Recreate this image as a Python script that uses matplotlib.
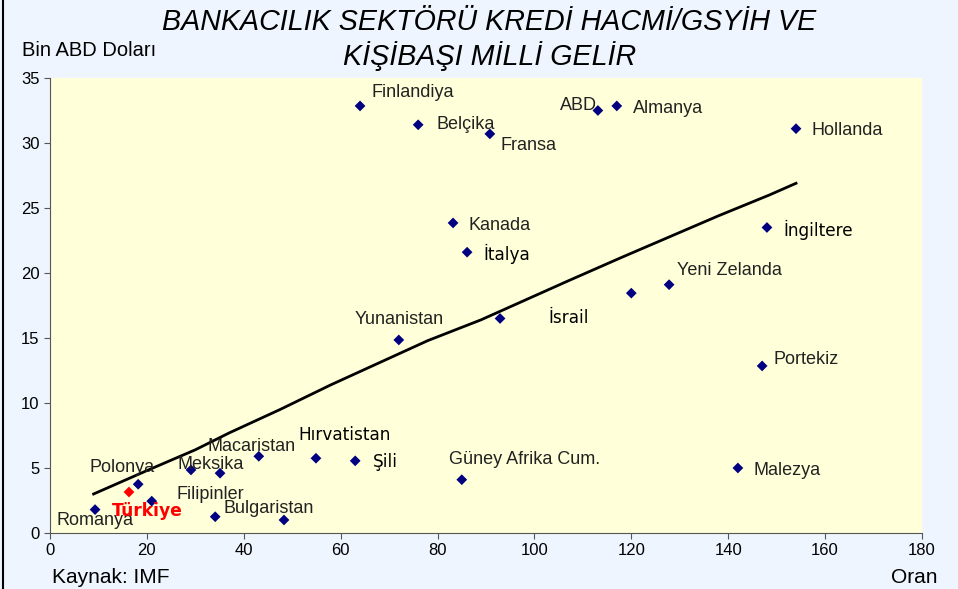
import matplotlib
matplotlib.use('Agg')
import matplotlib.pyplot as plt

# scatter data: ratio (x) vs per-capita income, thousand USD (y)
countries = ['Romanya', 'Türkiye', 'Polonya', 'Filipinler', 'Meksika', '', 'Macaristan',
             'Bulgaristan', '', 'Hırvatistan', 'Şili', 'Yunanistan', 'Güney Afrika Cum.',
             'Finlandiya', 'Belçika', 'Fransa', 'ABD', 'Almanya', 'Hollanda', 'Kanada',
             'İtalya', 'İsrail', '', 'Yeni Zelanda', 'İngiltere', 'Portekiz', 'Malezya']
ratio = [9.3, 16.3, 18.2, 21.0, 29.1, 35.1, 43.1,
         34.1, 48.3, 54.9, 63.0, 72.0, 85.0,
         64.0, 76.0, 90.8, 113.1, 117.0, 154.0, 83.2,
         86.1, 92.9, 120.0, 127.8, 148.0, 147.0, 142.0]
income = [1.8, 3.15, 3.75, 2.45, 4.85, 4.6, 5.9,
          1.25, 1.0, 5.75, 5.55, 14.85, 4.1,
          32.85, 31.4, 30.7, 32.5, 32.85, 31.1, 23.85,
          21.6, 16.5, 18.45, 19.1, 23.5, 12.85, 5.0]

# trend line
trend_x = [9, 20, 30, 37, 47.5, 58, 68, 78, 89, 98, 107, 118, 128, 138, 148.5, 154]
trend_y = [3.0, 4.8, 6.4, 7.7, 9.5, 11.4, 13.1, 14.8, 16.4, 17.9, 19.4, 21.2, 22.8, 24.4, 26.0, 26.9]

x_ticks = [0, 20, 40, 60, 80, 100, 120, 140, 160, 180]
y_ticks = [0, 5, 10, 15, 20, 25, 30, 35]

# label placement (offset points) and font per label
offsets = {
    'Romanya': (-28, -8), 'Türkiye': (-12, -14), 'Polonya': (-35, 12),
    'Filipinler': (18, 5), 'Meksika': (-10, 4), 'Macaristan': (-37, 7),
    'Bulgaristan': (6, 6), 'Hırvatistan': (-13, 16.5), 'Şili': (13, -1),
    'Yunanistan': (-32, 15), 'Güney Afrika Cum.': (-9, 14.5), 'Finlandiya': (8.5, 9.5),
    'Belçika': (13.5, 0.5), 'Fransa': (8, -8.5), 'ABD': (-27, 3.5), 'Almanya': (11.5, -1.5),
    'Hollanda': (11.5, -1.5), 'Kanada': (11, -2), 'İtalya': (11.5, -1),
    'İsrail': (34.5, 0), 'Yeni Zelanda': (6, 10), 'İngiltere': (11.5, -1.5),
    'Portekiz': (8, 4.5), 'Malezya': (11, -1.5),
}
verdana_like = {'Hırvatistan', 'Şili', 'İtalya', 'İsrail', 'İngiltere'}

fig = plt.figure(figsize=(9.58, 5.89), dpi=100, facecolor='#eef5ff')
ax = fig.add_axes([0.0522, 0.0951, 0.9102, 0.7725])
ax.set_facecolor('#ffffd9')

ax.plot(trend_x, trend_y, color='black', lw=2.0, zorder=2)
colors = ['red' if c == 'Türkiye' else '#000080' for c in countries]
ax.scatter(ratio, income, marker='D', s=30, c=colors, linewidths=0, zorder=3)

for name, xv, yv in zip(countries, ratio, income):
    if not name:
        continue
    dx, dy = offsets[name]
    if name == 'Türkiye':
        kw = dict(family='DejaVu Sans', fontsize=12.3, fontweight='bold', color='red')
    elif name in verdana_like:
        kw = dict(family='DejaVu Sans', fontsize=12.2, color='black')
    else:
        kw = dict(family='Liberation Sans', fontsize=13, color='#222222')
    ax.annotate(name, (xv, yv), xytext=(dx, dy), textcoords='offset points',
                ha='left', va='center', zorder=4, **kw)

ax.set_xlim(0, 180)
ax.set_ylim(0, 35)
ax.set_xticks(x_ticks)
ax.set_yticks(y_ticks)
for s in ['top', 'right']:
    ax.spines[s].set_visible(False)
for s in ['left', 'bottom']:
    ax.spines[s].set_color('#555555')
ax.tick_params(direction='out', length=4, color='#555555', labelsize=12)
for lab in ax.get_xticklabels() + ax.get_yticklabels():
    lab.set_family('Liberation Sans')

fig.text(0.511, 0.963, 'BANKACILIK SEKTÖRÜ KREDİ HACMİ/GSYİH VE', ha='center', va='center',
         family='Liberation Sans', style='italic', fontsize=20.6)
fig.text(0.511, 0.905, 'KİŞİBAŞI MİLLİ GELİR', ha='center', va='center',
         family='Liberation Sans', style='italic', fontsize=20.6)
fig.text(0.023, 0.915, 'Bin ABD Doları', ha='left', va='center',
         family='Liberation Sans', fontsize=14.5)
fig.text(0.054, 0.020, 'Kaynak: IMF', ha='left', va='center',
         family='Liberation Sans', fontsize=15)
fig.text(0.979, 0.020, 'Oran', ha='right', va='center',
         family='Liberation Sans', fontsize=15)

# thin frame on the left edge like the original slide
fig.add_artist(plt.Line2D([0.003, 0.003], [0, 1], transform=fig.transFigure, color='black', lw=1.5))

fig.savefig('out.png', dpi=100, facecolor=fig.get_facecolor())
